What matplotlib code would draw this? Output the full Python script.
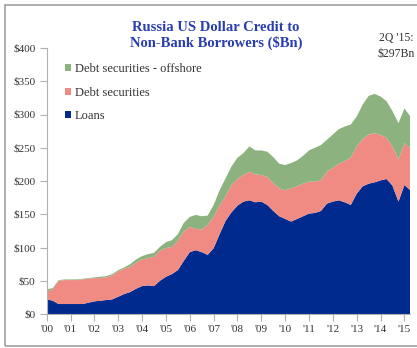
import matplotlib
matplotlib.use("Agg")
import matplotlib.pyplot as plt
import numpy as np
from matplotlib.patches import Rectangle

# Cumulative readings (quarterly, 2000Q1 .. 2015Q2)
loans = [22, 20, 15, 15, 15, 15, 15, 17, 19, 20, 21, 22, 26, 30, 33, 38,
         42, 43, 42, 50, 56, 60, 66, 80, 93, 96, 93, 89, 99, 120, 140, 153,
         163, 169, 171, 168, 169, 164, 155, 147, 143, 139, 143, 147, 151, 152,
         155, 166, 169, 171, 168, 164, 181, 192, 196, 198, 201, 203, 193, 169,
         194, 186]
loans_plus_debt = [33.5, 37, 50, 51, 51, 51, 52, 53, 54, 54, 55, 58, 64, 68, 71, 77,
                   82, 84, 86, 95, 99, 101, 110, 124, 131, 128, 127, 134, 146, 163, 177, 194,
                   203, 209, 214, 210, 209, 206, 197, 189, 186, 189, 192, 196, 199, 199,
                   201, 214, 220, 226, 230, 235, 252, 263, 270, 272, 269, 265, 252, 232,
                   257, 249]
total = [37, 39, 51, 52, 52, 52, 53, 54, 55, 56, 57, 60, 66, 70, 75, 82,
         87, 90, 92, 101, 108, 111, 120, 137, 146, 149, 147, 148, 164, 186, 204, 222,
         235, 242, 252, 246, 246, 244, 236, 226, 224, 227, 231, 238, 246, 250,
         254, 262, 270, 278, 282, 285, 297, 315, 328, 331, 327, 320, 305, 287,
         309, 297]

debt = [p - l for p, l in zip(loans_plus_debt, loans)]
offshore = [t - p for t, p in zip(total, loans_plus_debt)]

years = ["'00", "'01", "'02", "'03", "'04", "'05", "'06", "'07", "'08", "'09",
         "'10", "'11", "'12", "'13", "'14", "'15"]
yticks = [0, 50, 100, 150, 200, 250, 300, 350, 400]
series_names = ["Loans", "Debt securities", "Debt securities - offshore"]
colors = ["#012a8e", "#f08b84", "#8cb37f"]

serif = ["Liberation Serif", "DejaVu Serif"]

fig = plt.figure(figsize=(4.17, 3.48), dpi=100)
ax = fig.add_axes([46.7 / 417, 1 - 314 / 348, (410.4 - 46.7) / 417, (314 - 48) / 348])

x = np.arange(len(loans))
ax.stackplot(x, loans, debt, offshore, colors=colors, labels=series_names, linewidth=0)

ax.set_xlim(0, len(loans) - 1)
ax.set_ylim(0, 400)
ax.set_yticks(yticks)
ax.set_yticklabels([f"${v}" for v in yticks], family=serif, fontsize=8, color="#333333")
ax.set_xticks(np.arange(0, 4 * len(years), 4))
ax.set_xticklabels(years, family=serif, fontsize=8, color="#333333")
for s in ["top", "right"]:
    ax.spines[s].set_visible(False)
for s in ["left", "bottom"]:
    ax.spines[s].set_color("#b0b0b0")
    ax.spines[s].set_linewidth(0.8)
ax.tick_params(axis="both", color="#b0b0b0", length=5, width=0.8, pad=3)

handles, labels = ax.get_legend_handles_labels()
leg = ax.legend(handles[::-1], labels[::-1], loc="upper left", bbox_to_anchor=(0.02, 0.985),
                frameon=False, prop={"family": serif, "size": 9}, handlelength=0.45,
                handleheight=0.45, handletextpad=0.3, labelspacing=0.92)
for t in leg.get_texts():
    t.set_color("#333333")

fig.text(216 / 417, 1 - 35.5 / 348, "Russia US Dollar Credit to\nNon-Bank Borrowers ($Bn)",
         ha="center", va="center", family=serif, fontweight="bold", fontsize=10.5,
         color="#2a3db0", linespacing=1.2)
fig.text(396 / 417, 1 - 46 / 348, "2Q '15:\n$297Bn", ha="center", va="center",
         family=serif, fontsize=8.5, color="#333333", linespacing=1.35)

fig.patches.append(Rectangle((5 / 417, 1 - 346 / 348), 1.2, 341 / 348, transform=fig.transFigure,
                             fill=False, edgecolor="#a0a0a0", linewidth=1.2))

fig.savefig("out.png", dpi=100)
